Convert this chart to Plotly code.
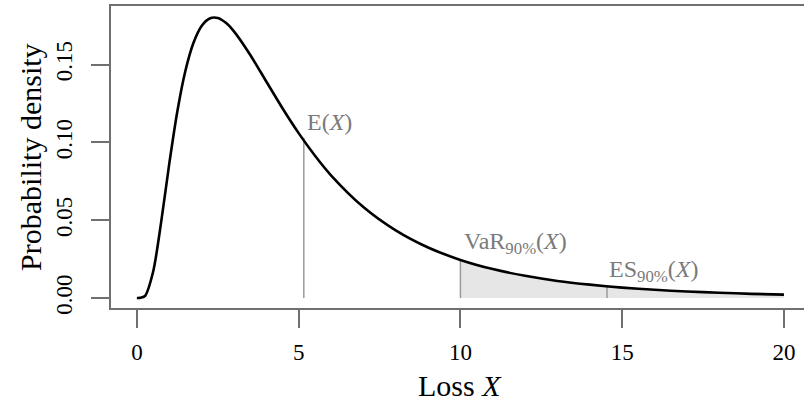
import plotly.graph_objects as go

# Density curve values
loss_x = [0, 0.1, 0.25, 0.5, 0.75, 1, 1.25, 1.5, 1.75, 2, 2.25, 2.5, 2.75, 3, 3.5, 4, 4.5,
          5, 5.5, 6, 7, 8, 9, 10, 11, 12, 13, 14, 15, 16, 17, 18, 19, 20]
density = [0.0, 0.0001, 0.0013, 0.0167, 0.0488, 0.0862, 0.1199, 0.1461, 0.1641, 0.1749,
           0.1797, 0.1800, 0.1769, 0.1714, 0.1564, 0.1392, 0.1220, 0.1060, 0.0916, 0.0789,
           0.0585, 0.0435, 0.0325, 0.0245, 0.0186, 0.0143, 0.0110, 0.0086, 0.0067, 0.0053,
           0.0042, 0.0034, 0.0027, 0.0022]

# Risk measures (x position, curve height)
mean_x, mean_y = 5.16, 0.103
var_x, var_y = 10.0, 0.0245
es_x, es_y = 14.53, 0.0072

labels = ["E(<i>X</i>)", "VaR<sub>90%</sub>(<i>X</i>)", "ES<sub>90%</sub>(<i>X</i>)"]
label_x = [5.19, 10.04, 14.52]
label_y = [0.1129, 0.0352, 0.0172]

x_ticks = [0, 5, 10, 15, 20]
y_ticks = [0.00, 0.05, 0.10, 0.15]

SERIF = "Liberation Serif, Times New Roman, serif"
AXIS_COL = "#707070"
GRAY = "#9a9a9a"

fig = go.Figure()

# shaded tail beyond VaR
tail_x = [x for x in loss_x if x >= var_x]
tail_y = [d for x, d in zip(loss_x, density) if x >= var_x]
fig.add_trace(go.Scatter(x=tail_x, y=tail_y, mode="lines", fill="tozeroy",
                         fillcolor="#e6e6e6", line=dict(width=0, shape="spline", color="#e6e6e6"),
                         hoverinfo="skip", showlegend=False))

# vertical lines
for vx, vy in [(mean_x, mean_y), (var_x, var_y), (es_x, es_y)]:
    fig.add_trace(go.Scatter(x=[vx, vx], y=[0, vy], mode="lines",
                             line=dict(color=GRAY, width=1.5), showlegend=False,
                             hoverinfo="skip"))

# density curve
fig.add_trace(go.Scatter(x=loss_x, y=density, mode="lines",
                         line=dict(color="black", width=2.6, shape="spline", smoothing=0.8),
                         showlegend=False))

for t, lx, ly in zip(labels, label_x, label_y):
    fig.add_annotation(x=lx, y=ly, text=t, showarrow=False, xanchor="left", yanchor="middle",
                       font=dict(family=SERIF, size=24, color="#7a7a7a"))

# axis titles
fig.add_annotation(x=10, xref="x", y=-0.258, yref="paper", text="Loss <i>X</i>", showarrow=False,
                   xanchor="center", yanchor="middle",
                   font=dict(family=SERIF, size=30, color="black"))
fig.add_annotation(x=-0.117, xref="paper", y=0.5, yref="paper", text="Probability density",
                   showarrow=False, textangle=-90, xanchor="center", yanchor="middle",
                   font=dict(family=SERIF, size=30, color="black"))

fig.update_xaxes(range=[-0.8, 20.62], tickvals=x_ticks, ticktext=[str(v) for v in x_ticks],
                 showgrid=False, zeroline=False, showline=True, linecolor=AXIS_COL, linewidth=2,
                 mirror=True, ticks="outside", ticklen=18, tickwidth=2, tickcolor=AXIS_COL,
                 automargin=False, ticklabelstandoff=4,
                 tickfont=dict(family=SERIF, size=23, color="black"))
fig.update_yaxes(range=[-0.0064, 0.1877], tickvals=y_ticks,
                 ticktext=["%.2f" % v for v in y_ticks], tickangle=-90,
                 showgrid=False, zeroline=False, showline=True, linecolor=AXIS_COL, linewidth=2,
                 mirror=False, ticks="outside", ticklen=18, tickwidth=2, tickcolor=AXIS_COL,
                 automargin=False, ticklabelstandoff=10,
                 tickfont=dict(family=SERIF, size=23, color="black"))

fig.update_layout(width=804, height=403, margin=dict(l=111, r=0, t=6, b=95),
                  plot_bgcolor="white", paper_bgcolor="white")

fig.write_html("out.html", config={"displayModeBar": False},
               post_script="document.body.style.margin='0';document.body.style.overflow='hidden';")
